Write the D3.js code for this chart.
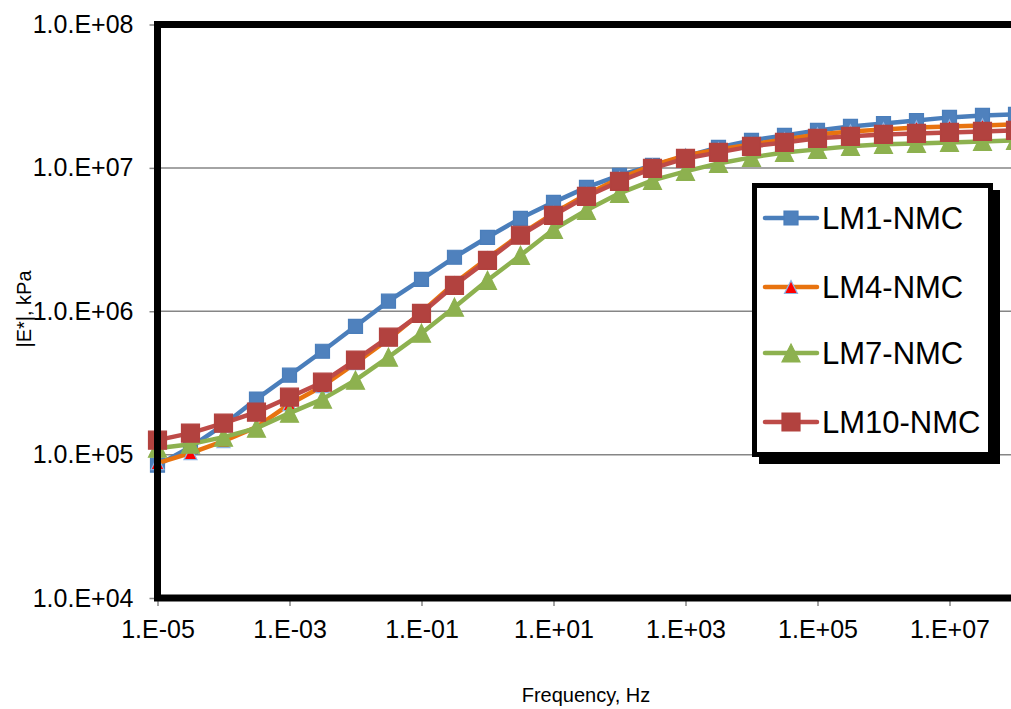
<!DOCTYPE html>
<html>
<head>
<meta charset="utf-8">
<script src="https://cdn.jsdelivr.net/npm/d3@7"></script>
<style>
  html, body { margin: 0; padding: 0; background: #fff; overflow: hidden; }
  svg { display: block; font-family: "Liberation Sans", Arial, sans-serif; }
</style>
</head>
<body>
<svg id="chart" width="1011" height="709"></svg>
<script>
// Loading frequencies, Hz
const freq = [1e-5, 3.16e-5, 1e-4, 3.16e-4, 1e-3, 3.16e-3, 1e-2, 3.16e-2, 1e-1, 3.16e-1,
              1, 3.16, 10, 31.6, 100, 316, 1e3, 3.16e3, 1e4, 3.16e4,
              1e5, 3.16e5, 1e6, 3.16e6, 1e7, 3.16e7, 1e8];

// Dynamic modulus |E*|, kPa
const lm1 = [8.45e4, 1.13e5, 1.61e5, 2.44e5, 3.58e5, 5.26e5, 7.85e5, 1.175e6, 1.67e6, 2.38e6,
             3.28e6, 4.45e6, 5.75e6, 7.31e6, 8.87e6, 1.04e7, 1.20e7, 1.39e7, 1.556e7, 1.684e7,
             1.824e7, 1.945e7, 2.04e7, 2.14e7, 2.25e7, 2.32e7, 2.36e7];
const lm4 = [8.73e4, 1.024e5, 1.242e5, 1.555e5, 2.249e5, 3.0e5, 4.345e5, 6.38e5, 9.84e5, 1.567e6,
             2.34e6, 3.44e6, 4.82e6, 6.53e6, 8.45e6, 1.04e7, 1.222e7, 1.346e7, 1.459e7, 1.581e7,
             1.711e7, 1.796e7, 1.854e7, 1.915e7, 1.945e7, 1.977e7, 2.01e7];
const lm7 = [1.109e5, 1.183e5, 1.324e5, 1.53e5, 1.946e5, 2.438e5, 3.304e5, 4.78e5, 7.03e5, 1.067e6,
             1.644e6, 2.455e6, 3.72e6, 5.06e6, 6.64e6, 8.18e6, 9.46e6, 1.074e7, 1.183e7, 1.282e7,
             1.346e7, 1.413e7, 1.459e7, 1.482e7, 1.505e7, 1.529e7, 1.556e7];
const lm10 = [1.262e5, 1.413e5, 1.658e5, 1.978e5, 2.515e5, 3.2e5, 4.56e5, 6.59e5, 9.68e5, 1.517e6,
              2.265e6, 3.39e6, 4.67e6, 6.32e6, 8.05e6, 9.93e6, 1.164e7, 1.282e7, 1.413e7, 1.505e7,
              1.607e7, 1.66e7, 1.711e7, 1.738e7, 1.766e7, 1.796e7, 1.824e7];

const seriesNames = ["LM1-NMC", "LM4-NMC", "LM7-NMC", "LM10-NMC"];

const xTicks = [1e-5, 1e-3, 1e-1, 1e1, 1e3, 1e5, 1e7];
const xTickLabels = ["1.E-05", "1.E-03", "1.E-01", "1.E+01", "1.E+03", "1.E+05", "1.E+07"];
const yTicks = [1e4, 1e5, 1e6, 1e7, 1e8];
const yTickLabels = ["1.0.E+04", "1.0.E+05", "1.0.E+06", "1.0.E+07", "1.0.E+08"];

const xTitle = "Frequency, Hz";
const yTitle = "|E*|, kPa";

// Per-series styling
const styles = [
  { line: "#4A7EBB", shape: "square", size: 14, fill: "#4F81BD", stroke: "#4A7EBB" },
  { line: "#E8730F", shape: "triangle", size: 13, fill: "#FF0000", stroke: "#8EB4E3" },
  { line: "#8DB14F", shape: "triangle", size: 18, fill: "#8DB14F", stroke: "#8DB14F" },
  { line: "#BE4B48", shape: "square", size: 18, fill: "#B2423F", stroke: "#B2423F" }
];
const seriesValues = [lm1, lm4, lm7, lm10];

const svg = d3.select("#chart");

// Plot area: the right side runs past the visible page
const plotL = 157.5, plotT = 24.5, plotB = 598;
const x = d3.scaleLog().domain([1e-5, 1e9]).range([plotL, plotL + 14 * 66]);
const y = d3.scaleLog().domain([1e4, 1e8]).range([plotB, plotT]);
const plotR = x(1e9);

// Horizontal gridlines
svg.append("g")
  .selectAll("line")
  .data(yTicks.slice(1, -1))
  .join("line")
  .attr("x1", plotL).attr("x2", plotR)
  .attr("y1", d => y(d)).attr("y2", d => y(d))
  .attr("stroke", "#868686").attr("stroke-width", 1.5);

// Axes (tick marks + labels)
const xAxis = d3.axisBottom(x).tickValues(xTicks)
  .tickFormat((d, i) => xTickLabels[i]).tickSize(8).tickPadding(14);
const gx = svg.append("g").attr("transform", `translate(0,${plotB})`).call(xAxis);
gx.select(".domain").remove();
gx.selectAll(".tick line").attr("stroke", "#868686").attr("stroke-width", 1.5);
gx.selectAll(".tick text").attr("font-size", 25).attr("fill", "#000")
  .attr("font-family", "Liberation Sans, Arial, sans-serif");

const yAxis = d3.axisLeft(y).tickValues(yTicks)
  .tickFormat((d, i) => yTickLabels[i]).tickSize(8).tickPadding(16);
const gy = svg.append("g").attr("transform", `translate(${plotL},0)`).call(yAxis);
gy.select(".domain").remove();
gy.selectAll(".tick line").attr("stroke", "#868686").attr("stroke-width", 1.5);
gy.selectAll(".tick text").attr("font-size", 25).attr("fill", "#000")
  .attr("font-family", "Liberation Sans, Arial, sans-serif");

// Marker path generator
function markerPath(shape, s) {
  const h = s / 2;
  if (shape === "square") return `M${-h},${-h}H${h}V${h}H${-h}Z`;
  return `M0,${-h}L${h},${h}L${-h},${h}Z`;
}

// Series lines and markers
const lineGen = d3.line().x(d => x(d[0])).y(d => y(d[1]));
seriesValues.forEach((vals, i) => {
  const st = styles[i];
  const pts = freq.map((f, j) => [f, vals[j]]);
  const g = svg.append("g").attr("class", "series");
  g.append("path").datum(pts)
    .attr("d", lineGen).attr("fill", "none")
    .attr("stroke", st.line).attr("stroke-width", 4.5)
    .attr("stroke-linejoin", "round").attr("stroke-linecap", "round");
  g.selectAll("path.m").data(pts).join("path").attr("class", "m")
    .attr("transform", d => `translate(${x(d[0])},${y(d[1])})`)
    .attr("d", markerPath(st.shape, st.size))
    .attr("fill", st.fill).attr("stroke", st.stroke).attr("stroke-width", 1.2);
});

// Plot frame
svg.append("rect")
  .attr("x", plotL).attr("y", plotT)
  .attr("width", plotR - plotL).attr("height", plotB - plotT)
  .attr("fill", "none").attr("stroke", "#000").attr("stroke-width", 7);

// Axis titles
svg.append("text")
  .attr("x", 586).attr("y", 702)
  .attr("text-anchor", "middle").attr("font-size", 20)
  .text(xTitle);
svg.append("text")
  .attr("transform", "translate(31,309) rotate(-90)")
  .attr("text-anchor", "middle").attr("font-size", 20)
  .text(yTitle);

// Legend with drop shadow
const lg = svg.append("g");
lg.append("rect").attr("x", 759).attr("y", 190).attr("width", 241).attr("height", 274)
  .attr("fill", "#000");
lg.append("rect").attr("x", 754.5).attr("y", 185.5).attr("width", 236).attr("height", 269)
  .attr("fill", "#fff").attr("stroke", "#000").attr("stroke-width", 5);
const rowY = [218, 287, 353, 422];
seriesNames.forEach((name, i) => {
  const st = styles[i];
  const r = lg.append("g").attr("transform", `translate(0,${rowY[i]})`);
  r.append("line").attr("x1", 765).attr("x2", 817).attr("y1", 0).attr("y2", 0)
    .attr("stroke", st.line).attr("stroke-width", 4.5).attr("stroke-linecap", "round");
  r.append("path").attr("transform", "translate(791,0)")
    .attr("d", markerPath(st.shape, st.size))
    .attr("fill", st.fill).attr("stroke", st.stroke).attr("stroke-width", 1.2);
  r.append("text").attr("x", 822).attr("y", 11).attr("font-size", 31).text(name);
});
</script>
</body>
</html>
